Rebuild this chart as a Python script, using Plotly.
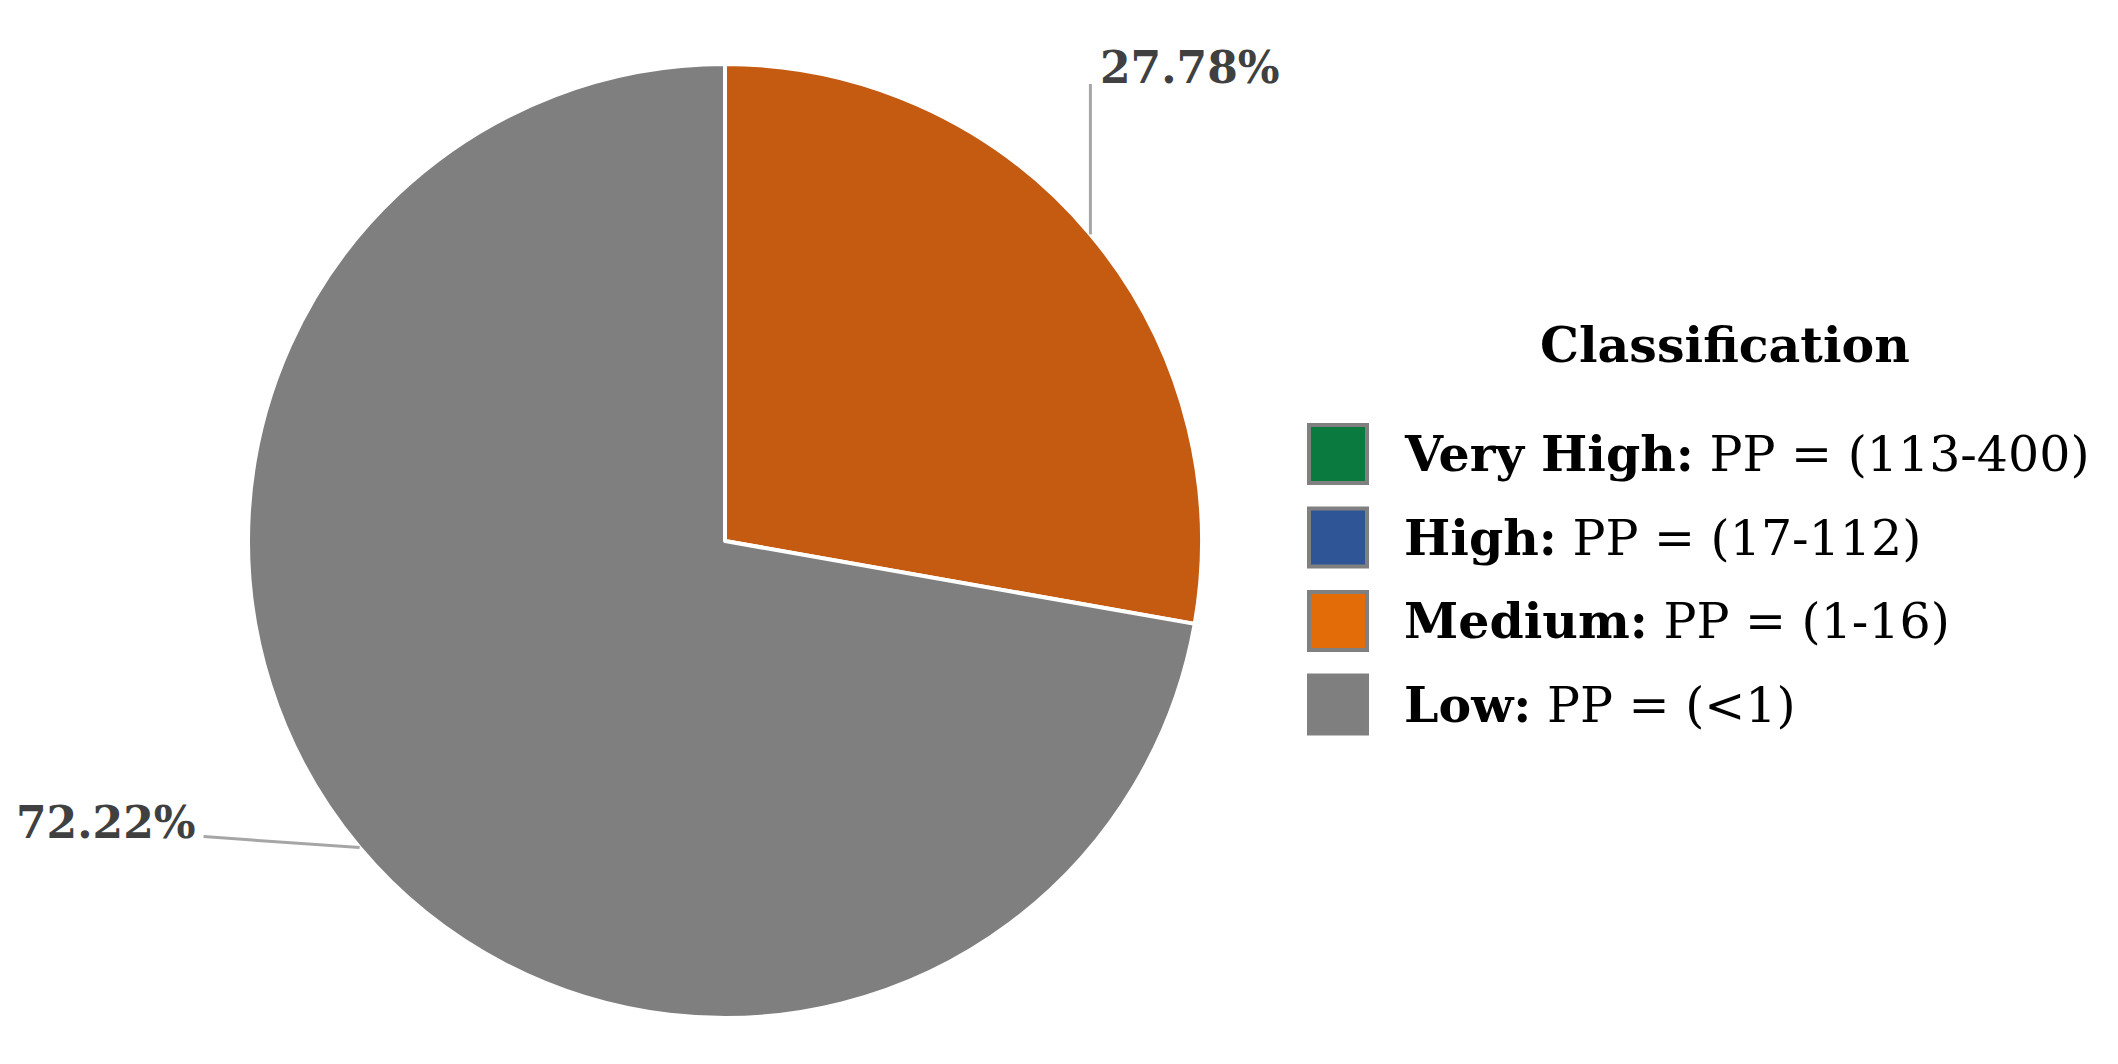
import math
import plotly.graph_objects as go

W, H = 2118, 1064

# data
categories = ["Very High", "High", "Medium", "Low"]
ranges = ["PP = (113-400)", "PP = (17-112)", "PP = (1-16)", "PP = (<1)"]
shares = [0.0, 0.0, 27.78, 72.22]
slice_colors = ["#0B7A3E", "#2F5597", "#C55A11", "#7F7F7F"]
legend_colors = ["#0B7A3E", "#2F5597", "#E36C09", "#7F7F7F"]

FONT = "DejaVu Serif"
LABEL_COLOR = "#404040"

# pie geometry in pixels
cx, cy, R = 717, 533, 477


def px(x):
    return x / W


def py(y):
    return 1 - y / H


shown = [i for i, v in enumerate(shares) if v > 0]

fig = go.Figure(
    go.Pie(
        labels=[categories[i] for i in shown],
        values=[shares[i] for i in shown],
        marker=dict(colors=[slice_colors[i] for i in shown],
                    line=dict(color="white", width=4)),
        sort=False,
        direction="clockwise",
        rotation=0,
        textinfo="none",
        hoverinfo="label+percent",
        showlegend=False,
        domain=dict(x=[px(cx - R), px(cx + R)], y=[py(cy + R), py(cy - R)]),
    )
)

shapes = []
annotations = []

# outside percentage labels with leader lines, anchored at each slice's mid-angle
total = sum(shares)
cum = 0.0
for i in shown:
    frac = shares[i] / total
    mid = math.radians(90 - 360 * (cum + frac / 2))
    cum += frac
    ax = cx + R * math.cos(mid)
    ay = cy - R * math.sin(mid)
    txt = f"<b>{shares[i]:.2f}%</b>"
    if math.cos(mid) >= 0:
        ex, ey = ax, 76
        annotations.append(dict(x=px(ex + 8), y=py(ey - 16), text=txt, xanchor="left",
                                yanchor="middle", showarrow=False))
    else:
        ex, ey = ax - 156, ay - 11
        annotations.append(dict(x=px(ex - 6), y=py(ey - 14), text=txt, xanchor="right",
                                yanchor="middle", showarrow=False))
    shapes.append(dict(type="line", xref="paper", yref="paper",
                       x0=px(ax), y0=py(ay), x1=px(ex), y1=py(ey),
                       line=dict(color="#A6A6A6", width=3)))

for a in annotations:
    a.update(xref="paper", yref="paper", font=dict(family=FONT, size=44, color=LABEL_COLOR))

# legend
annotations.append(dict(x=px(1717), y=py(337), xref="paper", yref="paper",
                        text="<b>Classification</b>", showarrow=False,
                        xanchor="center", yanchor="middle",
                        font=dict(family=FONT, size=49, color="black")))
row0, step, box = 446, 83.5, 58
for k, (cat, rng, col) in enumerate(zip(categories, ranges, legend_colors)):
    yc = row0 + k * step
    shapes.append(dict(type="rect", xref="paper", yref="paper",
                       x0=px(1301), x1=px(1301 + box),
                       y0=py(yc - box / 2), y1=py(yc + box / 2),
                       fillcolor=col, line=dict(color="#808080", width=4)))
    annotations.append(dict(x=px(1394), y=py(yc), xref="paper", yref="paper",
                            text=f"<b>{cat}:</b> {rng}", showarrow=False,
                            xanchor="left", yanchor="middle",
                            font=dict(family=FONT, size=49, color="black")))

fig.update_layout(
    width=W,
    height=H,
    margin=dict(l=0, r=0, t=0, b=0),
    paper_bgcolor="white",
    plot_bgcolor="white",
    shapes=shapes,
    annotations=annotations,
)

fig.write_html("out.html")
